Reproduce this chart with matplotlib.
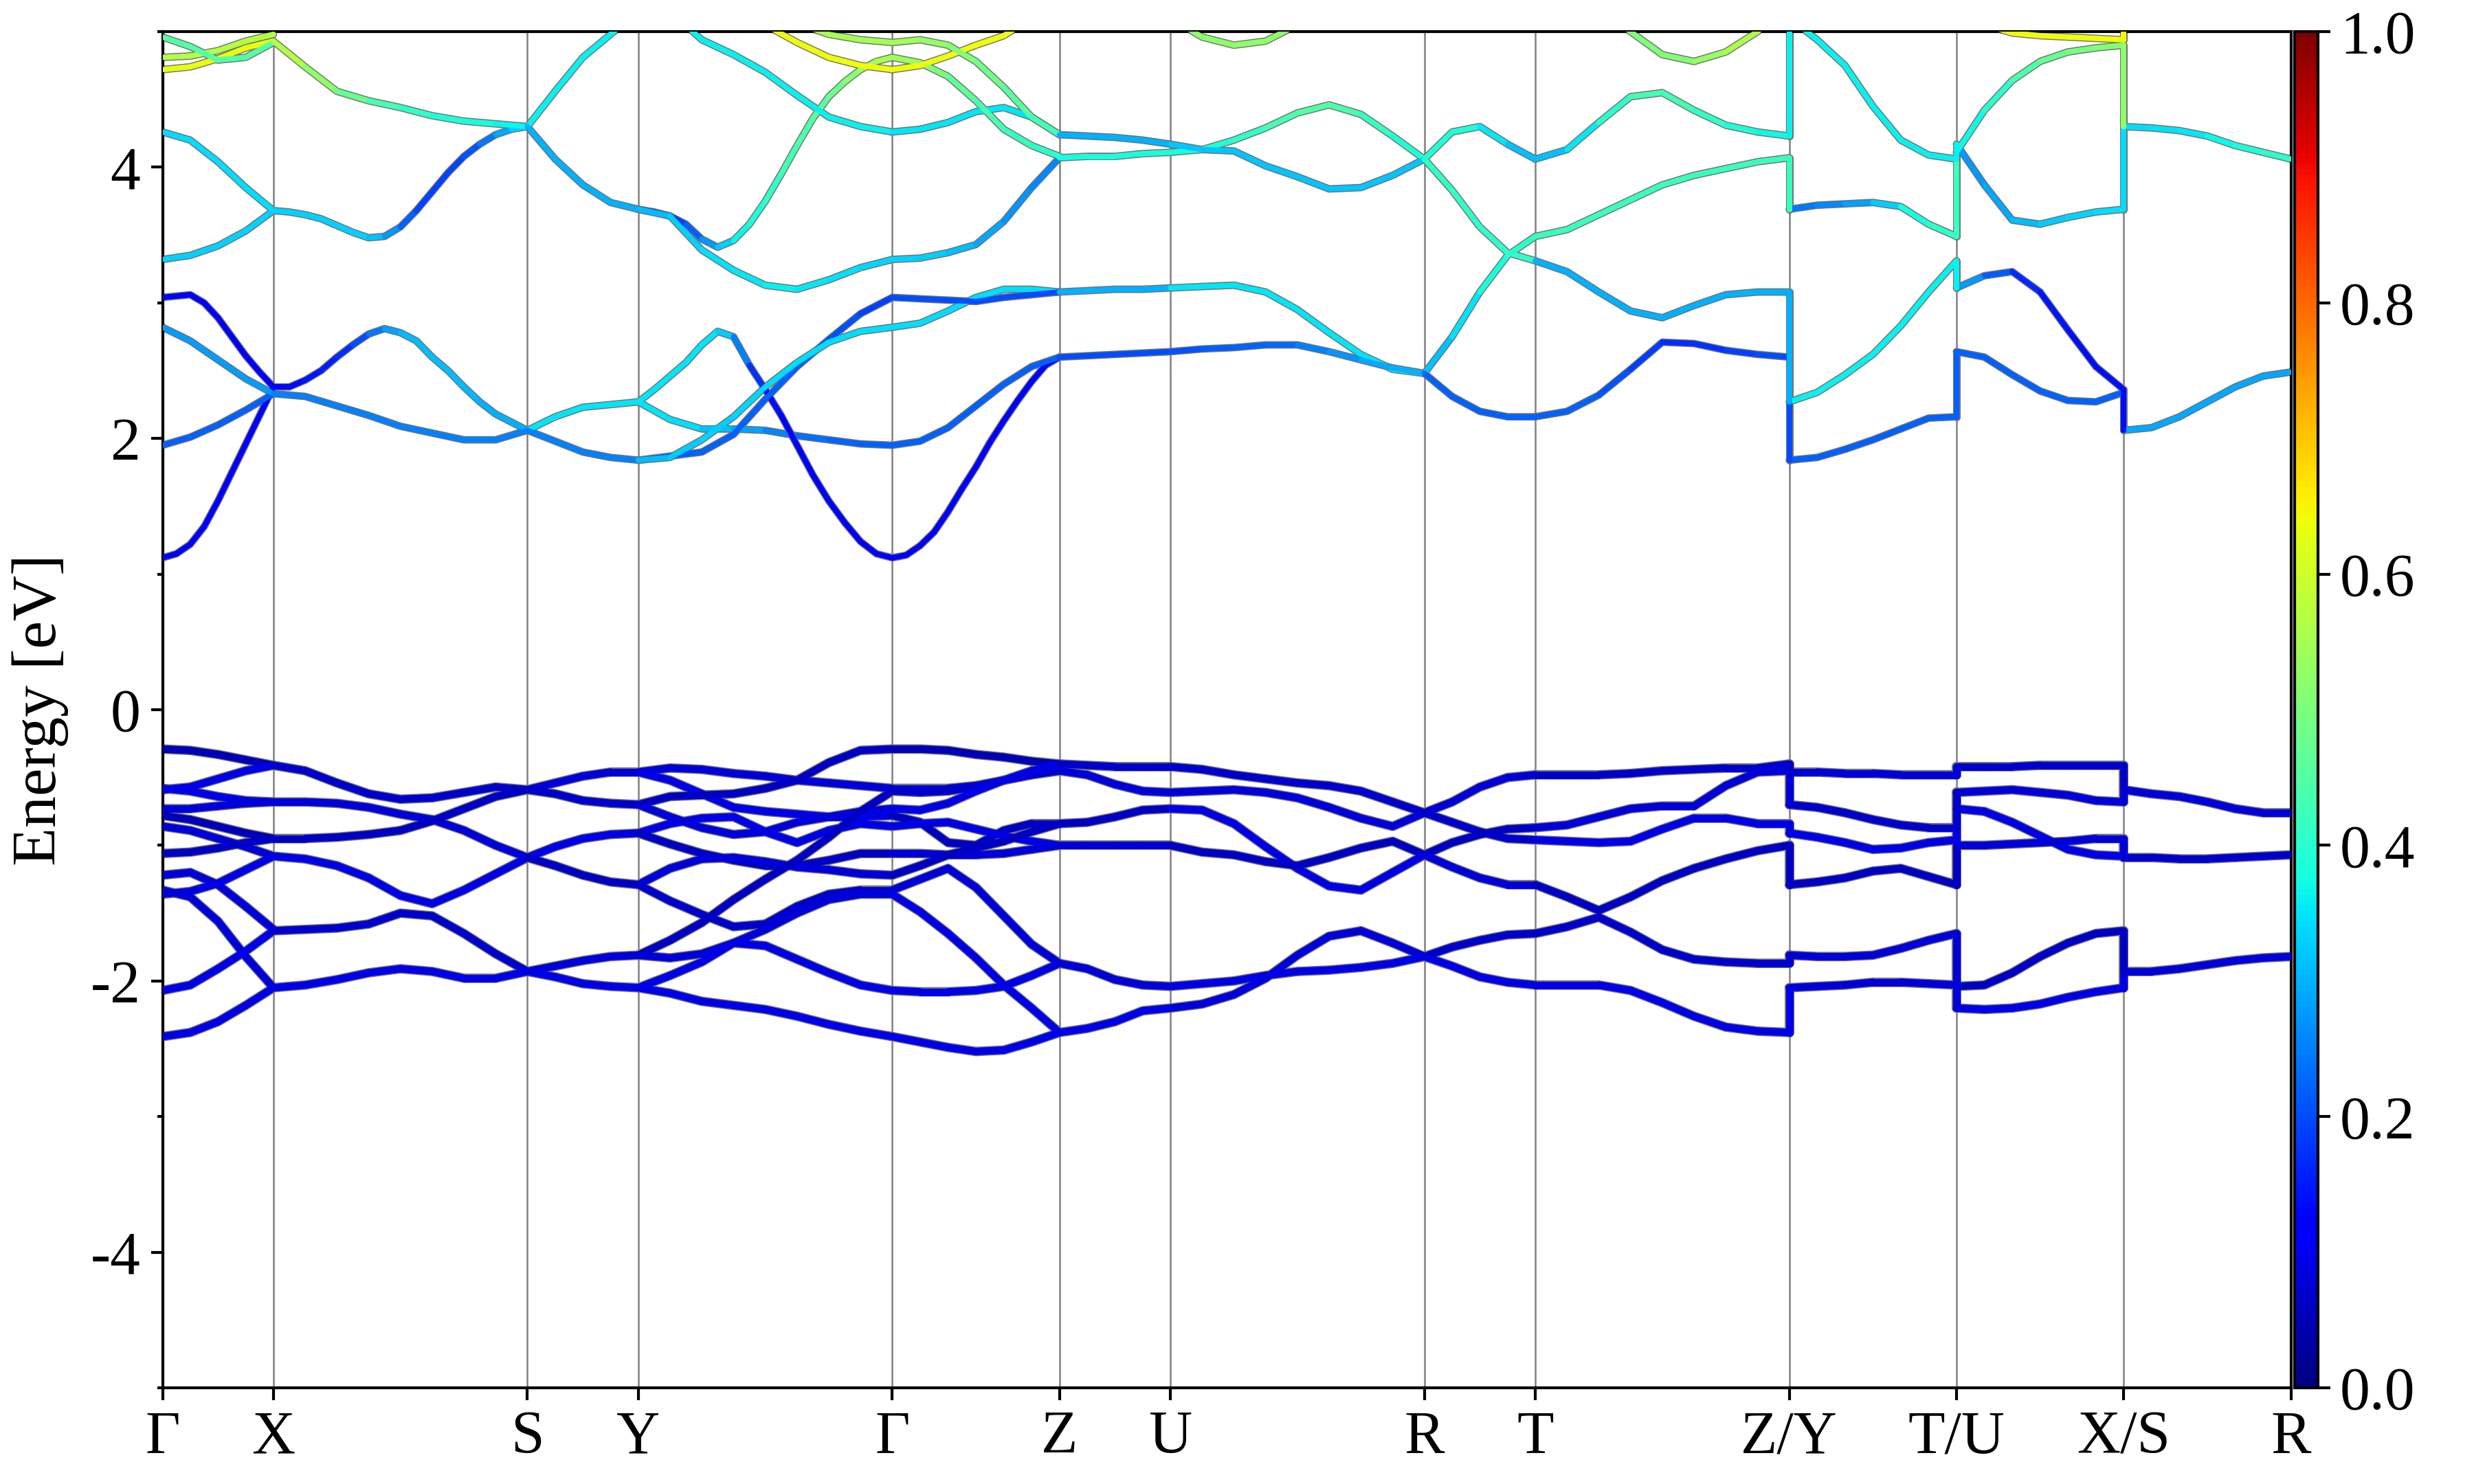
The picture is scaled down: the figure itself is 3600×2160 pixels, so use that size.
import numpy as np
import matplotlib
matplotlib.use("Agg")
import matplotlib.pyplot as plt
from matplotlib.collections import LineCollection
from matplotlib.colors import Normalize
from matplotlib.cm import ScalarMappable
from matplotlib.ticker import MultipleLocator

plt.rcParams['font.family'] = ['Liberation Serif', 'DejaVu Serif']
plt.rcParams['axes.unicode_minus'] = False

# k-path (segment lengths in arbitrary reciprocal units)
node_labels = ['Γ', 'X', 'S', 'Y', 'Γ', 'Z', 'U', 'R', 'T', 'Z/Y', 'T/U', 'X/S', 'R']
seg_len = [70.3, 161.0, 70.3, 161.0, 106.0, 70.3, 161.0, 70.3, 161.0, 106.0, 106.0, 106.0]
# band degeneracy along the last four branches (used to join the path breaks)
seg_deg = [1, 1, 1, 1, 1, 1, 1, 1, 2, 2, 2, 4]

# energies (eV) sampled evenly along each branch, weights = projected character
E_GX = [
    [-0.29, -0.30, -0.33, -0.37, -0.41],
    [-0.59, -0.57, -0.51, -0.45, -0.41],
    [-0.58, -0.60, -0.64, -0.67, -0.68],
    [-0.73, -0.73, -0.71, -0.69, -0.68],
    [-0.78, -0.81, -0.86, -0.91, -0.95],
    [-0.86, -0.89, -0.95, -1.01, -1.08],
    [-1.06, -1.05, -1.02, -0.98, -0.95],
    [-1.22, -1.20, -1.29, -1.45, -1.62],
    [-1.36, -1.34, -1.28, -1.18, -1.08],
    [-1.33, -1.38, -1.56, -1.82, -2.05],
    [-2.07, -2.03, -1.91, -1.78, -1.63],
    [-2.41, -2.38, -2.30, -2.18, -2.05],
    [1.12, 1.15, 1.22, 1.35, 1.54, 1.75, 1.96, 2.17, 2.38],
    [1.95, 2.01, 2.10, 2.21, 2.33],
    [2.82, 2.72, 2.58, 2.44, 2.33],
    [3.04, 3.05, 3.06, 3.00, 2.89, 2.75, 2.61, 2.49, 2.38],
    [3.32, 3.35, 3.42, 3.53, 3.68],
    [4.26, 4.20, 4.04, 3.85, 3.68],
    [4.72, 4.74, 4.80, 4.88, 4.93],
    [4.81, 4.82, 4.86, 4.93, 4.98],
    [4.96, 4.89, 4.79, 4.81, 4.92],
]
W_GX = [0.05, 0.09, 0.09, 0.08, 0.05, 0.08, 0.06, 0.08, 0.09, 0.08, 0.09, 0.09,
        0.12, 0.22, 0.28, 0.12, 0.33, 0.34, 0.63, 0.57, 0.45]

E_XS = [
    [-0.41, -0.45, -0.54, -0.62, -0.66, -0.65, -0.61, -0.57, -0.59],
    [-0.68, -0.68, -0.69, -0.72, -0.77, -0.81, -0.89, -1.00, -1.09],
    [-0.95, -0.95, -0.94, -0.92, -0.89, -0.82, -0.73, -0.64, -0.59],
    [-1.08, -1.10, -1.15, -1.24, -1.37, -1.43, -1.33, -1.21, -1.09],
    [-1.63, -1.62, -1.61, -1.58, -1.50, -1.52, -1.65, -1.80, -1.93],
    [-2.05, -2.03, -1.99, -1.94, -1.91, -1.93, -1.98, -1.98, -1.93],
    [2.38, 2.38, 2.43, 2.50, 2.60, 2.69, 2.77, 2.81, 2.78,
     2.72, 2.60, 2.50, 2.38, 2.27, 2.18, 2.12, 2.06],
    [2.33, 2.31, 2.24, 2.17, 2.09, 2.04, 1.99, 1.99, 2.06],
    [3.68, 3.67, 3.65, 3.62, 3.57, 3.52, 3.48, 3.49, 3.56,
     3.68, 3.82, 3.96, 4.08, 4.17, 4.24, 4.28, 4.30],
    [4.93, 4.74, 4.56, 4.49, 4.44, 4.38, 4.34, 4.32, 4.30],
]
W_XS = [0.07, 0.08, 0.06, 0.09, 0.07, 0.09,
        [0.13, 0.13, 0.14, 0.15, 0.16, 0.18, 0.22, 0.27, 0.30,
         0.31, 0.31, 0.31, 0.31, 0.30, 0.30, 0.30, 0.30],
        0.25,
        [0.33, 0.33, 0.33, 0.33, 0.33, 0.33, 0.33, 0.30, 0.24,
         0.20, 0.19, 0.19, 0.20, 0.22, 0.27, 0.31, 0.34],
        [0.58, 0.55, 0.50, 0.45, 0.42, 0.40, 0.38, 0.37, 0.36]]

E_SY = [
    [-0.59, -0.54, -0.49, -0.46, -0.46],
    [-0.59, -0.62, -0.67, -0.69, -0.70],
    [-1.09, -1.01, -0.95, -0.92, -0.91],
    [-1.09, -1.15, -1.22, -1.27, -1.29],
    [-1.93, -1.89, -1.85, -1.82, -1.81],
    [-1.93, -1.97, -2.02, -2.04, -2.05],
    [4.30, 4.56, 4.81, 4.98, 5.15],
    [4.30, 4.06, 3.87, 3.74, 3.69],
    [2.06, 2.16, 2.23, 2.25, 2.27],
    [2.06, 1.98, 1.90, 1.86, 1.84],
]
W_SY = [0.08, 0.07, 0.09, 0.06, 0.08, 0.09, 0.36, 0.30, 0.35, 0.25]

E_YG = [
    [-0.46, -0.43, -0.44, -0.47, -0.49, -0.52, -0.54, -0.56, -0.58],
    [-0.46, -0.52, -0.62, -0.72, -0.75, -0.77, -0.79, -0.79, -0.78],
    [-0.70, -0.64, -0.63, -0.62, -0.58, -0.52, -0.39, -0.30, -0.29],
    [-0.70, -0.79, -0.87, -0.92, -0.90, -0.83, -0.79, -0.75, -0.73],
    [-0.91, -0.84, -0.80, -0.79, -0.90, -0.98, -0.89, -0.84, -0.86],
    [-0.91, -0.99, -1.06, -1.11, -1.15, -1.15, -1.11, -1.06, -1.06],
    [-1.29, -1.17, -1.10, -1.09, -1.12, -1.16, -1.18, -1.21, -1.22],
    [-1.29, -1.41, -1.51, -1.60, -1.58, -1.45, -1.36, -1.33, -1.33],
    [-1.81, -1.70, -1.57, -1.40, -1.25, -1.11, -0.94, -0.75, -0.60],
    [-1.81, -1.83, -1.80, -1.72, -1.62, -1.50, -1.40, -1.36, -1.36],
    [-2.05, -1.96, -1.86, -1.72, -1.74, -1.84, -1.94, -2.03, -2.07],
    [-2.05, -2.09, -2.15, -2.18, -2.21, -2.26, -2.32, -2.37, -2.41],
    [3.69, 3.67, 3.64, 3.58, 3.47, 3.41, 3.46, 3.58, 3.75,
     3.95, 4.16, 4.36, 4.52, 4.63, 4.72, 4.78, 4.81],
    [3.69, 3.64, 3.39, 3.24, 3.13, 3.10, 3.17, 3.26, 3.32],
    [2.27, 2.14, 2.07, 2.07, 2.06, 2.02, 1.99, 1.96, 1.95],
    [2.27, 2.36, 2.46, 2.56, 2.69, 2.79, 2.75, 2.54, 2.36,
     2.17, 1.95, 1.73, 1.54, 1.38, 1.24, 1.15, 1.12],
    [1.84, 1.87, 1.90, 2.03, 2.29, 2.53, 2.73, 2.92, 3.04],
    [1.84, 1.86, 1.99, 2.16, 2.38, 2.56, 2.71, 2.79, 2.82],
    [5.30, 5.15, 4.94, 4.83, 4.70, 4.53, 4.37, 4.30, 4.26],
    [5.35, 5.30, 5.25, 5.15, 5.05, 4.92, 4.81, 4.75, 4.72],
    [5.40, 5.35, 5.30, 5.25, 5.15, 5.06, 4.98, 4.94, 4.92],
]
W_YG = [0.08, 0.09, 0.06, 0.08, 0.09, 0.06, 0.08, 0.07, 0.06, 0.08, 0.09, 0.09,
        [0.18, 0.18, 0.18, 0.20, 0.24, 0.30, 0.35, 0.38, 0.40,
         0.42, 0.44, 0.45, 0.47, 0.50, 0.53, 0.55, 0.56],
        [0.30, 0.32, 0.34, 0.35, 0.36, 0.36, 0.35, 0.34, 0.33],
        [0.35, 0.35, 0.33, 0.30, 0.27, 0.24, 0.23, 0.22, 0.22],
        [0.35, 0.35, 0.35, 0.35, 0.35, 0.35, 0.30, 0.20, 0.15,
         0.13, 0.12, 0.12, 0.12, 0.12, 0.12, 0.12, 0.12],
        [0.22, 0.22, 0.22, 0.22, 0.22, 0.22, 0.21, 0.20, 0.18],
        [0.30, 0.32, 0.33, 0.33, 0.34, 0.34, 0.34, 0.34, 0.34],
        0.36, 0.64, 0.55]

E_GZ = [
    [-0.29, -0.29, -0.30, -0.33, -0.35, -0.38, -0.40],
    [-0.58, -0.58, -0.58, -0.56, -0.52, -0.48, -0.45],
    [-0.60, -0.61, -0.60, -0.57, -0.52, -0.48, -0.45],
    [-0.73, -0.74, -0.69, -0.60, -0.52, -0.45, -0.40],
    [-0.78, -0.83, -0.98, -1.00, -0.89, -0.84, -0.84],
    [-0.86, -0.84, -0.83, -0.88, -0.93, -0.97, -1.00],
    [-1.06, -1.06, -1.07, -1.07, -1.06, -1.03, -1.00],
    [-1.22, -1.15, -1.07, -1.02, -0.97, -0.90, -0.84],
    [-1.33, -1.25, -1.17, -1.31, -1.52, -1.73, -1.87],
    [-1.36, -1.49, -1.65, -1.83, -2.03, -2.20, -2.38],
    [-2.07, -2.08, -2.08, -2.07, -2.04, -1.96, -1.87],
    [-2.41, -2.45, -2.49, -2.52, -2.51, -2.45, -2.38],
    [1.12, 1.14, 1.21, 1.31, 1.46, 1.63, 1.79, 1.97, 2.13, 2.28, 2.42, 2.54, 2.60],
    [1.95, 1.98, 2.08, 2.24, 2.40, 2.53, 2.60],
    [2.82, 2.85, 2.94, 3.04, 3.10, 3.10, 3.08],
    [3.04, 3.03, 3.02, 3.01, 3.04, 3.06, 3.08],
    [3.32, 3.33, 3.37, 3.43, 3.60, 3.85, 4.07],
    [4.26, 4.28, 4.33, 4.41, 4.44, 4.37, 4.24],
    [4.81, 4.77, 4.67, 4.49, 4.28, 4.16, 4.08],
    [4.72, 4.75, 4.82, 4.90, 4.97, 5.10, 5.20],
    [4.92, 4.94, 4.90, 4.78, 4.59, 4.37, 4.24],
]
W_GZ = [0.05, 0.08, 0.07, 0.09, 0.06, 0.09, 0.08, 0.06, 0.08, 0.09, 0.09, 0.09,
        0.12, 0.22, 0.34, 0.20,
        [0.33, 0.33, 0.32, 0.30, 0.28, 0.26, 0.26],
        0.35,
        [0.56, 0.52, 0.48, 0.45, 0.42, 0.41, 0.40],
        0.64,
        [0.55, 0.54, 0.52, 0.50, 0.47, 0.44, 0.42]]

E_ZU = [
    [-0.40, -0.41, -0.42, -0.42, -0.42],
    [-0.45, -0.48, -0.55, -0.60, -0.61],
    [-0.84, -0.83, -0.79, -0.74, -0.73],
    [-1.00, -1.00, -1.00, -1.00, -1.00],
    [-1.87, -1.91, -1.99, -2.03, -2.04],
    [-2.38, -2.35, -2.30, -2.22, -2.20],
    [4.24, 4.23, 4.22, 4.20, 4.17],
    [4.07, 4.08, 4.08, 4.10, 4.11],
    [3.08, 3.09, 3.10, 3.10, 3.11],
    [2.60, 2.61, 2.62, 2.63, 2.64],
]
W_ZU = [0.07, 0.08, 0.06, 0.08, 0.08, 0.09, 0.30, 0.38, 0.30, 0.20]

E_UR = [
    [-0.42, -0.44, -0.48, -0.51, -0.54, -0.56, -0.60, -0.68, -0.76],
    [-0.61, -0.60, -0.59, -0.61, -0.65, -0.72, -0.80, -0.86, -0.76],
    [-0.73, -0.74, -0.84, -1.01, -1.17, -1.30, -1.33, -1.20, -1.07],
    [-1.00, -1.05, -1.07, -1.12, -1.15, -1.09, -1.02, -0.97, -1.07],
    [-2.20, -2.17, -2.10, -1.98, -1.81, -1.67, -1.63, -1.72, -1.82],
    [-2.04, -2.02, -2.00, -1.96, -1.93, -1.92, -1.90, -1.87, -1.82],
    [4.11, 4.13, 4.20, 4.29, 4.40, 4.46, 4.39, 4.23, 4.06],
    [4.17, 4.13, 4.12, 4.01, 3.93, 3.84, 3.85, 3.94, 4.06],
    [3.11, 3.12, 3.13, 3.08, 2.95, 2.78, 2.62, 2.51, 2.48],
    [2.64, 2.66, 2.67, 2.69, 2.69, 2.64, 2.58, 2.52, 2.48],
    [5.10, 4.96, 4.90, 4.93, 5.05, 5.15, 5.20, 5.25, 5.30],
]
W_UR = [0.07, 0.08, 0.09, 0.06, 0.08, 0.09,
        [0.38, 0.38, 0.40, 0.42, 0.45, 0.45, 0.43, 0.40, 0.38],
        0.32, 0.35,
        [0.20, 0.21, 0.22, 0.22, 0.24, 0.26, 0.28, 0.30, 0.30],
        0.52]

E_RT = [
    [-0.76, -0.68, -0.57, -0.50, -0.48],
    [-0.76, -0.83, -0.90, -0.95, -0.96],
    [-1.07, -0.98, -0.92, -0.88, -0.87],
    [-1.07, -1.16, -1.24, -1.29, -1.29],
    [-1.82, -1.75, -1.70, -1.66, -1.65],
    [-1.82, -1.89, -1.97, -2.01, -2.03],
    [4.06, 4.26, 4.30, 4.17, 4.06],
    [4.06, 3.83, 3.56, 3.37, 3.31],
    [2.48, 2.75, 3.08, 3.35, 3.49],
    [2.48, 2.31, 2.20, 2.16, 2.16],
]
W_RT = [0.08, 0.07, 0.06, 0.08, 0.07, 0.09,
        [0.38, 0.40, 0.38, 0.33, 0.30], 0.41,
        [0.30, 0.33, 0.36, 0.40, 0.41], 0.22]

E_TZ = [
    [-0.48, -0.48, -0.48, -0.47, -0.45, -0.44, -0.43, -0.43, -0.40],
    [-0.87, -0.85, -0.79, -0.73, -0.71, -0.71, -0.56, -0.46, -0.45],
    [-0.96, -0.97, -0.98, -0.97, -0.88, -0.80, -0.80, -0.84, -0.84],
    [-1.29, -1.38, -1.48, -1.38, -1.26, -1.17, -1.10, -1.04, -1.00],
    [-1.65, -1.60, -1.53, -1.64, -1.77, -1.84, -1.86, -1.87, -1.87],
    [-2.03, -2.03, -2.03, -2.07, -2.16, -2.26, -2.34, -2.37, -2.38],
    [4.06, 4.13, 4.33, 4.52, 4.55, 4.42, 4.31, 4.26, 4.23],
    [3.49, 3.54, 3.65, 3.76, 3.87, 3.94, 3.99, 4.04, 4.07],
    [3.31, 3.23, 3.08, 2.94, 2.89, 2.98, 3.06, 3.08, 3.08],
    [2.16, 2.20, 2.32, 2.51, 2.71, 2.70, 2.65, 2.62, 2.60],
    [5.40, 5.30, 5.15, 5.00, 4.83, 4.78, 4.85, 5.00, 5.20],
]
W_TZ = [0.07, 0.08, 0.09, 0.06, 0.07, 0.09,
        [0.30, 0.33, 0.38, 0.42, 0.44, 0.42, 0.40, 0.38, 0.36],
        0.42, 0.30,
        [0.22, 0.22, 0.22, 0.20, 0.17, 0.17, 0.18, 0.20, 0.20],
        [0.50, 0.50, 0.50, 0.50, 0.50, 0.52, 0.55, 0.57, 0.58]]

E_YT = [
    [-0.46, -0.46, -0.47, -0.47, -0.48, -0.48, -0.48],
    [-0.70, -0.72, -0.76, -0.81, -0.85, -0.87, -0.87],
    [-0.91, -0.94, -0.98, -1.03, -1.02, -0.98, -0.96],
    [-1.29, -1.27, -1.24, -1.19, -1.17, -1.23, -1.29],
    [-1.81, -1.82, -1.82, -1.81, -1.76, -1.70, -1.65],
    [-2.05, -2.04, -2.03, -2.01, -2.01, -2.02, -2.03],
    [3.69, 3.72, 3.73, 3.74, 3.71, 3.58, 3.49],
    [2.27, 2.34, 2.47, 2.62, 2.83, 3.08, 3.31],
    [1.84, 1.86, 1.92, 1.99, 2.07, 2.15, 2.16],
    [5.10, 4.94, 4.75, 4.45, 4.20, 4.09, 4.06],
]
W_YT = [0.08, 0.07, 0.09, 0.06, 0.08, 0.08,
        [0.24, 0.25, 0.27, 0.30, 0.35, 0.40, 0.42], 0.36, 0.22, 0.36]

E_UX = [
    [-0.42, -0.42, -0.42, -0.41, -0.41, -0.41, -0.41],
    [-0.61, -0.60, -0.59, -0.61, -0.63, -0.67, -0.68],
    [-0.73, -0.75, -0.83, -0.93, -1.03, -1.07, -1.08],
    [-1.00, -1.00, -0.99, -0.98, -0.97, -0.95, -0.95],
    [-2.04, -2.03, -1.94, -1.82, -1.72, -1.65, -1.63],
    [-2.20, -2.21, -2.20, -2.17, -2.12, -2.08, -2.05],
    [4.17, 3.87, 3.61, 3.58, 3.63, 3.67, 3.69],
    [4.11, 4.42, 4.64, 4.78, 4.85, 4.88, 4.90],
    [3.11, 3.20, 3.23, 3.08, 2.80, 2.53, 2.36],
    [2.64, 2.60, 2.47, 2.35, 2.28, 2.27, 2.34],
    [5.20, 5.05, 4.99, 4.97, 4.96, 4.95, 4.94],
]
W_UX = [0.07, 0.08, 0.09, 0.08, 0.06, 0.09,
        [0.27, 0.28, 0.30, 0.32, 0.33, 0.34, 0.34],
        [0.36, 0.38, 0.42, 0.46, 0.49, 0.50, 0.52],
        [0.30, 0.25, 0.18, 0.15, 0.14, 0.14, 0.14],
        0.22, 0.64]

E_SR = [
    [-0.59, -0.62, -0.64, -0.68, -0.73, -0.76, -0.76],
    [-1.09, -1.09, -1.10, -1.10, -1.09, -1.08, -1.07],
    [-1.93, -1.93, -1.91, -1.88, -1.85, -1.83, -1.82],
    [4.30, 4.29, 4.27, 4.23, 4.16, 4.11, 4.06],
    [2.06, 2.08, 2.16, 2.27, 2.38, 2.46, 2.49],
]
W_SR = [0.08, 0.07, 0.08,
        [0.34, 0.34, 0.35, 0.36, 0.38, 0.40, 0.41], 0.29]

segments = [(E_GX, W_GX), (E_XS, W_XS), (E_SY, W_SY), (E_YG, W_YG),
            (E_GZ, W_GZ), (E_ZU, W_ZU), (E_UR, W_UR), (E_RT, W_RT),
            (E_TZ, W_TZ), (E_YT, W_YT), (E_UX, W_UX), (E_SR, W_SR)]

cmap = plt.get_cmap('jet')
norm = Normalize(0, 1)
k_nodes = np.concatenate([[0.0], np.cumsum(seg_len)])
ymin, ymax = -5, 5

fig = plt.figure(figsize=(12, 7.2), dpi=300)
ax = fig.add_axes([0.0657, 0.0648, 0.8603, 0.9139])


def draw_band(k, e, w):
    k = np.asarray(k, float)
    e = np.asarray(e, float)
    w = np.broadcast_to(np.asarray(w, float), e.shape)
    lw = 2.6 if e.mean() < 0 else 1.9
    ax.plot(k, e, color='0.45', lw=lw + 0.7, solid_capstyle='round',
            solid_joinstyle='round', zorder=2)
    pts = np.column_stack([k, e])
    segs = np.stack([pts[:-1], pts[1:]], axis=1)
    wm = 0.5 * (w[:-1] + w[1:])
    lc = LineCollection(segs, colors=cmap(norm(wm)), linewidths=lw,
                        capstyle='round', joinstyle='round', zorder=3)
    ax.add_collection(lc)


def end_weight(w, where):
    w = np.atleast_1d(np.asarray(w, float))
    return w[where]


for i, (E, W) in enumerate(segments):
    k0, k1 = k_nodes[i], k_nodes[i + 1]
    for e, w in zip(E, W):
        kk = k0 + np.linspace(0, 1, len(e)) * (k1 - k0)
        draw_band(kk, e, w)

# vertical joins at the path breaks (Z|Y, T|U, X|S), bands matched by index
for i in (8, 9, 10):
    kb = k_nodes[i + 1]
    E_l, W_l = segments[i]
    E_r, W_r = segments[i + 1]
    left = sorted((e[-1], end_weight(w, -1)) for e, w in zip(E_l, W_l)
                  for _ in range(seg_deg[i]))
    right = sorted(e[0] for e in E_r for _ in range(seg_deg[i + 1]))
    for n in range(max(len(left), len(right))):
        el, wl = left[n] if n < len(left) else (ymax + 1, 0.5)
        er = right[n] if n < len(right) else ymax + 1
        if abs(el - er) > 1e-6:
            draw_band([kb, kb], [el, er], [wl, wl])

for kn in k_nodes[1:-1]:
    ax.axvline(kn, color='0.5', lw=0.6, zorder=1)

ax.set_xlim(k_nodes[0], k_nodes[-1])
ax.set_ylim(ymin, ymax)
ax.set_xticks(k_nodes)
ax.set_xticklabels(node_labels)
ax.set_yticks([-4, -2, 0, 2, 4])
ax.yaxis.set_minor_locator(MultipleLocator(1))
ax.tick_params(axis='both', which='major', direction='out', length=4.2,
               width=1.0, labelsize=21)
ax.tick_params(axis='y', which='minor', direction='out', length=2.0, width=1.0)
ax.set_ylabel('Energy [eV]', fontsize=22)
ax.yaxis.set_label_coords(-0.044, 0.5)
for sp in ax.spines.values():
    sp.set_linewidth(1.0)

cax = fig.add_axes([0.9276, 0.0648, 0.0093, 0.9139])
cb = fig.colorbar(ScalarMappable(norm=norm, cmap=cmap), cax=cax,
                  ticks=np.arange(0, 1.01, 0.2))
cb.ax.set_yticklabels(['%.1f' % t for t in np.arange(0, 1.01, 0.2)])
cb.ax.tick_params(labelsize=21, length=4.2, width=1.0)
cb.outline.set_linewidth(1.0)

fig.savefig('out.png', dpi=300)
